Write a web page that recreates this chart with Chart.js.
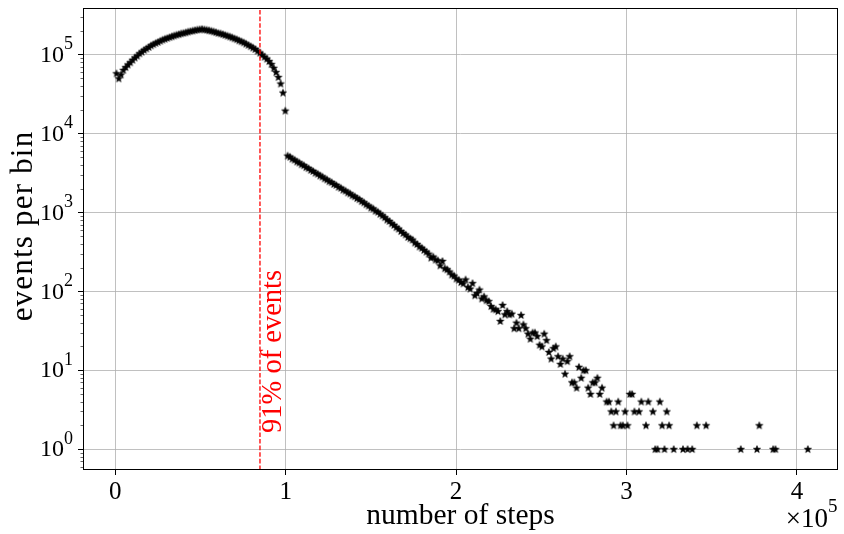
<!DOCTYPE html>
<html>
<head>
<meta charset="utf-8">
<script src="https://cdn.jsdelivr.net/npm/chart.js@4.4.1/dist/chart.umd.min.js"></script>
<style>
  html, body { margin: 0; padding: 0; background: #fff; }
  #wrap { width: 844px; height: 534px; }
</style>
</head>
<body>
<div id="wrap"><canvas id="chart" width="844" height="534"></canvas></div>
<script>
// histogram of step counts, 300 equal bins, empty bins are 0
const binWidth = 1357
const counts = [
  58000, 50000, 56000, 64000, 69500, 75000, 80000, 86000, 92000, 97000,
  104000, 109000, 115000, 120000, 125000, 131000, 136000, 141000, 145000, 150000,
  155000, 159000, 163000, 167000, 171000, 175000, 179000, 182000, 186000, 189000,
  192000, 196000, 199000, 202000, 205000, 208000, 210000, 212000, 209000, 207000,
  204000, 201000, 197000, 193000, 189000, 186000, 182000, 178000, 174000, 170000,
  166000, 161000, 157000, 152000, 148000, 143000, 138000, 133000, 128000, 123000,
  118000, 112000, 106000, 100000, 94000, 89000, 83000, 76000, 68000, 60000,
  52000, 43000, 33000, 19500, 5250, 5080, 4810, 4660, 4420, 4290,
  4080, 3960, 3750, 3640, 3460, 3350, 3190, 3090, 2940, 2850,
  2700, 2620, 2490, 2420, 2290, 2230, 2110, 2050, 1940, 1890,
  1790, 1740, 1650, 1600, 1520, 1470, 1390, 1340, 1270, 1220,
  1150, 1120, 1050, 1020, 960, 916, 868, 812, 778, 728,
  695, 650, 622, 580, 548, 525, 488, 470, 452, 415,
  398, 370, 356, 335, 318, 300, 267, 275, 252, 247,
  213, 242, 196, 190, 178, 163, 158, 145, 140, 131,
  126, 141, 113, 108, 127, 89, 95, 105, 81, 86,
  77, 75, 65, 60, 59, 56, 42, 67, 51, 56,
  51, 52, 34, 40, 34, 50, 38, 34, 29, 25,
  30, 30, 27, 21, 20, 29, 24, 17, 14, 19,
  20, 15, 12, 14, 9, 13, 15, 7, 7, 6,
  11, 8, 10, 10, 6, 5, 7, 7, 8, 5,
  6, 0, 4, 4, 3, 2, 3, 4, 2, 2,
  3, 2, 5, 5, 3, 0, 3, 4, 0, 2,
  4, 0, 3, 1, 1, 4, 2, 1, 3, 2,
  0, 1, 0, 0, 0, 1, 0, 1, 0, 1,
  0, 2, 0, 0, 0, 2, 0, 0, 0, 0,
  0, 0, 0, 0, 0, 0, 0, 0, 0, 0,
  1, 0, 0, 0, 0, 0, 0, 1, 2, 0,
  0, 0, 0, 0, 1, 1, 0, 0, 0, 0,
  0, 0, 0, 0, 0, 0, 0, 0, 0, 1
]
const xTicks = [0, 1, 2, 3, 4]          // in units of 1e5 steps
const yDecades = [0, 1, 2, 3, 4, 5]
const cutoffStep = 84900                // 91% of all events lie below this
const cutoffLabel = '91% of events'
const xTitle = 'number of steps'
const yTitle = 'events per bin'

const xMin = -18960, xMax = 424120
const yMin = 0.542, yMax = 3.9e5

const points = counts
  .map((c, i) => ({ x: (i + 0.5) * binWidth, y: c }))
  .filter(p => p.y > 0)

// filled five point star, like matplotlib's '*'
const makeStar = (r) => {
  const size = Math.ceil(r * 2) + 2
  const c = document.createElement('canvas')
  c.width = c.height = size
  const g = c.getContext('2d')
  g.beginPath()
  for (let k = 0; k < 10; k++) {
    const rad = k % 2 ? r * 0.42 : r
    const a = -Math.PI / 2 + k * Math.PI / 5
    const px = size / 2 + rad * Math.cos(a), py = size / 2 + 0.4 + rad * Math.sin(a)
    k ? g.lineTo(px, py) : g.moveTo(px, py)
  }
  g.closePath()
  g.fillStyle = '#000'
  g.strokeStyle = '#000'
  g.lineWidth = 0.6
  g.fill()
  g.stroke()
  return c
}

const serif = 'Liberation Serif'
Chart.defaults.font.family = serif
Chart.defaults.color = '#000'

const decorations = {
  id: 'decorations',
  afterDraw (chart) {
    const { ctx, chartArea: a, scales: { x, y } } = chart
    ctx.save()

    // minor ticks of the log axis
    ctx.strokeStyle = '#000'
    ctx.lineWidth = 0.6
    ctx.beginPath()
    for (const e of [-1, ...yDecades]) {
      for (let m = 2; m < 10; m++) {
        const v = m * 10 ** e
        if (v < yMin || v > yMax) continue
        const py = Math.round(y.getPixelForValue(v)) + 0.5
        ctx.moveTo(a.left, py)
        ctx.lineTo(a.left - 2.5, py)
      }
    }
    ctx.stroke()

    // box round the plot
    ctx.lineWidth = 1
    ctx.strokeRect(a.left + 0.5, a.top + 0.5, a.width - 1, a.height - 1)

    // 10^n labels
    ctx.fillStyle = '#000'
    ctx.textBaseline = 'middle'
    yDecades.forEach(e => {
      const py = y.getPixelForValue(10 ** e)
      ctx.font = `24px ${serif}`
      ctx.textAlign = 'right'
      ctx.fillText('10', 64, py + 1)
      ctx.font = `18px ${serif}`
      ctx.textAlign = 'left'
      ctx.fillText(String(e), 64, py - 10)
    })

    // y axis title
    ctx.save()
    ctx.translate(24, 226)
    ctx.rotate(-Math.PI / 2)
    ctx.font = `31px ${serif}`
    ctx.letterSpacing = '1.2px'
    ctx.textAlign = 'center'
    ctx.fillText(yTitle, 0, 0)
    ctx.restore()

    // axis multiplier
    ctx.font = `27px ${serif}`
    ctx.textAlign = 'right'
    ctx.fillText('×10', a.right - 10, 520)
    ctx.font = `19px ${serif}`
    ctx.textAlign = 'left'
    ctx.fillText('5', a.right - 10, 507)

    // note next to the cutoff line
    ctx.translate(x.getPixelForValue(cutoffStep) + 14, y.getPixelForValue(1.6))
    ctx.rotate(-Math.PI / 2)
    ctx.fillStyle = '#ff0000'
    ctx.font = `28.5px ${serif}`
    ctx.textAlign = 'left'
    ctx.fillText(cutoffLabel, 0, 0)
    ctx.restore()
  }
}

new Chart(document.getElementById('chart'), {
  type: 'scatter',
  data: {
    datasets: [{
      data: points,
      pointStyle: makeStar(3.8),
      pointRadius: 3.8,
      order: 1
    }, {
      data: [{ x: cutoffStep, y: yMin }, { x: cutoffStep, y: yMax }],
      showLine: true,
      borderColor: '#ff0000',
      borderWidth: 1.3,
      borderDash: [4.6, 2],
      pointRadius: 0,
      order: 0
    }]
  },
  options: {
    responsive: false,
    animation: false,
    devicePixelRatio: 1,
    layout: { padding: { top: 8, right: 6, left: 0, bottom: 0 } },
    plugins: { legend: { display: false }, tooltip: { enabled: false } },
    scales: {
      x: {
        type: 'linear',
        min: xMin,
        max: xMax,
        afterBuildTicks: scale => { scale.ticks = xTicks.map(v => ({ value: v * 1e5 })) },
        afterFit: scale => { scale.height = 64 },
        border: { display: false },
        grid: { color: '#b0b0b0', lineWidth: 0.8, tickLength: 5, tickColor: '#000', tickWidth: 1 },
        ticks: { font: { size: 25 }, padding: 2, maxRotation: 0, callback: v => String(v / 1e5) },
        title: { display: true, text: xTitle, font: { size: 29.5 }, padding: { top: 0, bottom: 0 } }
      },
      y: {
        type: 'logarithmic',
        min: yMin,
        max: yMax,
        afterBuildTicks: scale => { scale.ticks = yDecades.map(e => ({ value: 10 ** e })) },
        afterFit: scale => { scale.width = 83 },
        border: { display: false },
        grid: { color: '#b0b0b0', lineWidth: 0.8, tickLength: 5, tickColor: '#000', tickWidth: 1 },
        ticks: { display: false }
      }
    }
  },
  plugins: [decorations]
})
</script>
</body>
</html>
